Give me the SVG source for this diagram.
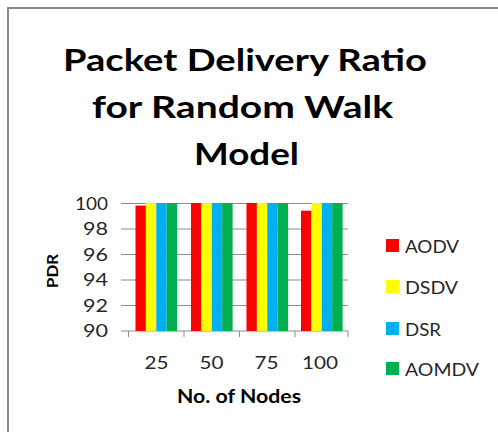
<svg xmlns="http://www.w3.org/2000/svg" width="498" height="432" viewBox="0 0 498 432">
  <style>
    .frame { stroke: #898989; stroke-width: 2; fill: none; }
    .grid { stroke: #8c8c8c; stroke-width: 1; fill: none; }
    .title { font-family: Lato, "Liberation Sans", sans-serif; font-weight: bold; font-size: 31px; fill: #000; }
    .tick { font-family: Lato, "Liberation Sans", sans-serif; font-size: 17px; fill: #262626; }
    .cat { font-family: Lato, "Liberation Sans", sans-serif; font-size: 18px; fill: #262626; }
    .axis { font-family: Lato, "Liberation Sans", sans-serif; font-weight: bold; fill: #000; }
    .aodv { fill: #ff0000; }
    .dsdv { fill: #ffff00; }
    .dsr { fill: #00b0f0; }
    .aomdv { fill: #00b050; }
  </style>
  <rect width="498" height="432" fill="#ffffff"/>

  <!-- chart frame (only top and left edges fall inside the view) -->
  <path class="frame" d="M8 433 V8 H499"/>

  <!-- title -->
  <g id="title">
    <text class="title" x="63" y="71" textLength="364" lengthAdjust="spacingAndGlyphs">Packet Delivery Ratio</text>
    <text class="title" x="92" y="118" textLength="301" lengthAdjust="spacingAndGlyphs">for Random Walk</text>
    <text class="title" x="194" y="165" textLength="105" lengthAdjust="spacingAndGlyphs">Model</text>
  </g>

  <!-- gridlines and category axis -->
  <g id="axes">
    <path class="grid" d="M121 203.5 H348 M121 229 H348 M121 254.5 H348 M121 280 H348 M121 305.5 H348 M121 331 H348"/>
    <path class="grid" d="M128.5 331 V337 M184 331 V337 M239.5 331 V337 M295 331 V337 M348 331 V337"/>
  </g>

  <!-- value axis labels -->
  <g id="y-labels" text-anchor="end">
    <text class="tick" x="108" y="209.5" textLength="33" lengthAdjust="spacingAndGlyphs">100</text>
    <text class="tick" x="108" y="235" textLength="25" lengthAdjust="spacingAndGlyphs">98</text>
    <text class="tick" x="108" y="260.5" textLength="25" lengthAdjust="spacingAndGlyphs">96</text>
    <text class="tick" x="108" y="286" textLength="25" lengthAdjust="spacingAndGlyphs">94</text>
    <text class="tick" x="108" y="311.5" textLength="25" lengthAdjust="spacingAndGlyphs">92</text>
    <text class="tick" x="108" y="337" textLength="25" lengthAdjust="spacingAndGlyphs">90</text>
  </g>
  <text id="y-title" class="axis" font-size="16" transform="translate(57.5 271) rotate(-90)" text-anchor="middle" textLength="34" lengthAdjust="spacingAndGlyphs">PDR</text>

  <!-- category labels -->
  <g id="x-labels" text-anchor="middle">
    <text class="cat" x="156.5" y="368.5" textLength="24" lengthAdjust="spacingAndGlyphs">25</text>
    <text class="cat" x="211.5" y="368.5" textLength="24" lengthAdjust="spacingAndGlyphs">50</text>
    <text class="cat" x="266.5" y="368.5" textLength="24" lengthAdjust="spacingAndGlyphs">75</text>
    <text class="cat" x="320" y="368.5" textLength="36" lengthAdjust="spacingAndGlyphs">100</text>
  </g>
  <text id="x-title" class="axis" font-size="18.5" x="177" y="403" textLength="124" lengthAdjust="spacingAndGlyphs">No. of Nodes</text>

  <!-- bars: 90..100 maps to y 331..203 (12.8 px per unit) -->
  <g id="series-aodv" class="aodv">
    <rect x="135.5" y="205.6" width="10.4" height="125.4"/>
    <rect x="191" y="203" width="10.4" height="128"/>
    <rect x="246.5" y="203" width="10.4" height="128"/>
    <rect x="301" y="210.7" width="10.4" height="120.3"/>
  </g>
  <g id="series-dsdv" class="dsdv">
    <rect x="145.9" y="203" width="10.4" height="128"/>
    <rect x="201.4" y="203" width="10.4" height="128"/>
    <rect x="256.9" y="203" width="10.4" height="128"/>
    <rect x="311.4" y="203" width="10.4" height="128"/>
  </g>
  <g id="series-dsr" class="dsr">
    <rect x="156.3" y="203" width="10.4" height="128"/>
    <rect x="211.8" y="203" width="10.4" height="128"/>
    <rect x="267.3" y="203" width="10.4" height="128"/>
    <rect x="321.8" y="203" width="10.4" height="128"/>
  </g>
  <g id="series-aomdv" class="aomdv">
    <rect x="166.7" y="203" width="10.4" height="128"/>
    <rect x="222.2" y="203" width="10.4" height="128"/>
    <rect x="277.7" y="203" width="10.4" height="128"/>
    <rect x="332.2" y="203" width="10.4" height="128"/>
  </g>

  <!-- legend -->
  <g id="legend">
    <g id="legend-aodv">
      <rect class="aodv" x="386" y="239" width="13" height="13"/>
      <text class="cat" x="405" y="252.5" textLength="54" lengthAdjust="spacingAndGlyphs">AODV</text>
    </g>
    <g id="legend-dsdv">
      <rect class="dsdv" x="386" y="280" width="13" height="13"/>
      <text class="cat" x="405" y="293.5" textLength="53" lengthAdjust="spacingAndGlyphs">DSDV</text>
    </g>
    <g id="legend-dsr">
      <rect class="dsr" x="386" y="322" width="13" height="13"/>
      <text class="cat" x="405" y="335.5" textLength="36" lengthAdjust="spacingAndGlyphs">DSR</text>
    </g>
    <g id="legend-aomdv">
      <rect class="aomdv" x="386" y="362" width="13" height="13"/>
      <text class="cat" x="405" y="375.5" textLength="74" lengthAdjust="spacingAndGlyphs">AOMDV</text>
    </g>
  </g>
</svg>
